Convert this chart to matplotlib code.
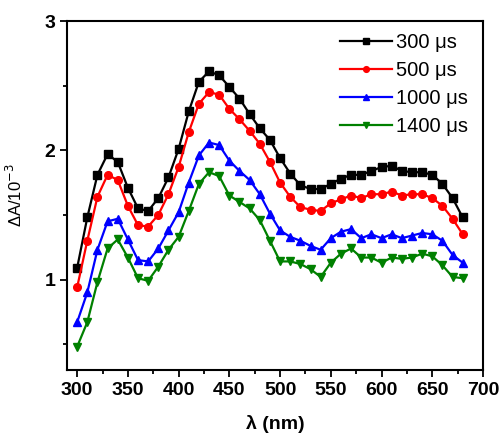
import matplotlib
matplotlib.use("Agg")
import matplotlib.pyplot as plt
import numpy as np
from matplotlib.ticker import MultipleLocator

plt.rcParams['font.family'] = ['Liberation Sans', 'DejaVu Sans']

wavelength = list(range(300, 690, 10))

a_300 = [1.09, 1.48, 1.81, 1.97, 1.91, 1.71, 1.55, 1.53, 1.63, 1.79,
         2.01, 2.30, 2.53, 2.61, 2.58, 2.49, 2.40, 2.28, 2.17, 2.08,
         1.94, 1.82, 1.73, 1.70, 1.70, 1.74, 1.78, 1.81, 1.81, 1.84,
         1.87, 1.88, 1.84, 1.83, 1.83, 1.81, 1.74, 1.63, 1.48]

a_500 = [0.94, 1.30, 1.64, 1.81, 1.77, 1.57, 1.42, 1.41, 1.50, 1.66,
         1.87, 2.14, 2.36, 2.45, 2.43, 2.32, 2.24, 2.15, 2.05, 1.91,
         1.75, 1.64, 1.56, 1.54, 1.53, 1.59, 1.62, 1.65, 1.63, 1.66,
         1.66, 1.68, 1.65, 1.66, 1.66, 1.63, 1.57, 1.47, 1.35]

a_1000 = [0.67, 0.90, 1.23, 1.45, 1.47, 1.31, 1.15, 1.14, 1.24, 1.38,
          1.52, 1.75, 1.96, 2.06, 2.04, 1.92, 1.84, 1.77, 1.66, 1.51,
          1.38, 1.33, 1.30, 1.26, 1.23, 1.32, 1.37, 1.39, 1.32, 1.35,
          1.32, 1.35, 1.32, 1.34, 1.36, 1.35, 1.30, 1.19, 1.13]

a_1400 = [0.48, 0.67, 0.98, 1.24, 1.31, 1.17, 1.01, 0.99, 1.10, 1.23,
          1.33, 1.53, 1.74, 1.83, 1.80, 1.65, 1.60, 1.55, 1.46, 1.30,
          1.14, 1.14, 1.12, 1.08, 1.02, 1.13, 1.20, 1.24, 1.17, 1.17,
          1.13, 1.17, 1.16, 1.17, 1.20, 1.18, 1.11, 1.02, 1.01]

labels = ["300 \u03bcs", "500 \u03bcs", "1000 \u03bcs", "1400 \u03bcs"]
colors = ["black", "red", "blue", "green"]
markers = ["s", "o", "^", "v"]

fig = plt.figure(figsize=(5.04, 4.43), dpi=100)
ax = fig.add_axes([67/504, 1 - 370/443, (483-67)/504, (370-21)/443])

for series, lab, c, m in zip([a_300, a_500, a_1000, a_1400], labels, colors, markers):
    ax.plot(wavelength, series, color=c, marker=m, markersize=5.5, linewidth=1.6, label=lab)

ax.set_xlim(290, 700)
ax.set_ylim(0.3, 3)
ax.xaxis.set_major_locator(MultipleLocator(50))
ax.xaxis.set_minor_locator(MultipleLocator(25))
ax.yaxis.set_major_locator(MultipleLocator(1))
ax.yaxis.set_minor_locator(MultipleLocator(0.5))
ax.tick_params(which='both', direction='out', top=False, right=False, width=1.3)
ax.tick_params(which='major', length=5, labelsize=14)
ax.tick_params(which='minor', length=3)
for lbl in ax.get_xticklabels() + ax.get_yticklabels():
    lbl.set_fontweight('bold')
for sp in ax.spines.values():
    sp.set_linewidth(1.5)

ax.set_xlabel("\u03bb (nm)", fontsize=14, fontweight='bold', labelpad=12)
ax.set_ylabel("\u0394A/10$^{-3}$", fontsize=12, labelpad=14)

ax.legend(loc='upper right', bbox_to_anchor=(0.984, 0.989), frameon=False, fontsize=14.5,
          handlelength=2.6, handletextpad=0.2, labelspacing=0.45, borderaxespad=0,
          markerscale=0.75)

fig.savefig("out.png", dpi=100)
